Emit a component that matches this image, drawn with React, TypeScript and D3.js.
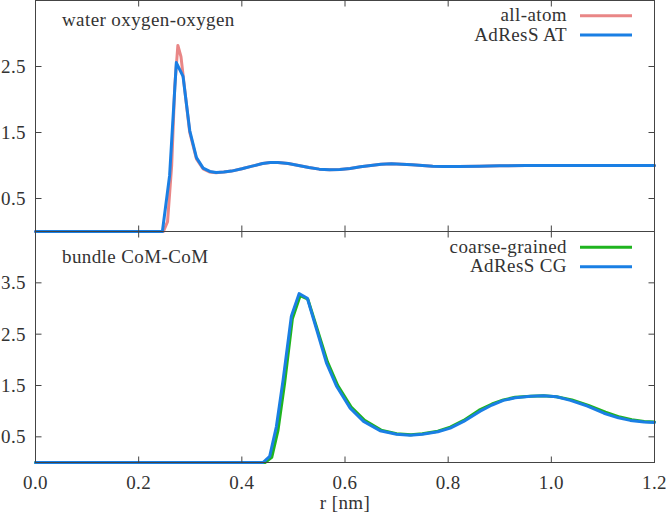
import React from "react";
import * as d3 from "d3";

// ---- data ----
const allAtomR = [0, 0.248, 0.256, 0.264, 0.27, 0.276, 0.282, 0.29, 0.299, 0.312, 0.325, 0.338, 0.35, 0.365, 0.38, 0.4, 0.42, 0.44, 0.455, 0.47, 0.49, 0.51, 0.53, 0.55, 0.57, 0.59, 0.61, 0.63, 0.65, 0.67, 0.69, 0.71, 0.73, 0.75, 0.77, 0.79, 0.82, 0.86, 0.9, 0.95, 1.0, 1.1, 1.2];
const allAtomG = [0, 0, 0.15, 1.0, 2.2, 2.82, 2.65, 2.1, 1.5, 1.1, 0.95, 0.9, 0.89, 0.9, 0.915, 0.95, 0.99, 1.03, 1.045, 1.045, 1.03, 1.0, 0.97, 0.945, 0.935, 0.94, 0.955, 0.98, 1.0, 1.02, 1.025, 1.02, 1.01, 1.0, 0.99, 0.985, 0.985, 0.99, 0.995, 1.0, 1.0, 1.0, 1.0];

const adressATR = [0, 0.246, 0.26, 0.273, 0.286, 0.299, 0.312, 0.325, 0.338, 0.35, 0.365, 0.38, 0.4, 0.42, 0.44, 0.455, 0.47, 0.49, 0.51, 0.53, 0.55, 0.57, 0.59, 0.61, 0.63, 0.65, 0.67, 0.69, 0.71, 0.73, 0.75, 0.77, 0.79, 0.82, 0.86, 0.9, 0.95, 1.0, 1.1, 1.2];
const adressATG = [0, 0, 0.85, 2.56, 2.35, 1.53, 1.12, 0.96, 0.91, 0.895, 0.9, 0.915, 0.95, 0.99, 1.03, 1.045, 1.045, 1.03, 1.0, 0.97, 0.945, 0.935, 0.94, 0.955, 0.98, 1.0, 1.02, 1.025, 1.02, 1.01, 1.0, 0.99, 0.985, 0.985, 0.99, 0.995, 1.0, 1.0, 1.0, 1.0];

const coarseR = [0, 0.445, 0.458, 0.47, 0.483, 0.498, 0.513, 0.528, 0.546, 0.566, 0.586, 0.612, 0.638, 0.67, 0.7, 0.728, 0.75, 0.78, 0.804, 0.83, 0.86, 0.885, 0.907, 0.93, 0.96, 0.985, 1.01, 1.04, 1.072, 1.105, 1.133, 1.156, 1.18, 1.2];
const coarseG = [0, 0, 0.1, 0.62, 1.55, 2.8, 3.25, 3.18, 2.6, 1.96, 1.5, 1.08, 0.82, 0.63, 0.56, 0.54, 0.56, 0.61, 0.69, 0.82, 1.02, 1.14, 1.22, 1.27, 1.29, 1.3, 1.28, 1.22, 1.11, 0.98, 0.885, 0.835, 0.8, 0.79];

const adressCGR = [0, 0.441, 0.454, 0.467, 0.48, 0.496, 0.511, 0.527, 0.545, 0.564, 0.584, 0.61, 0.636, 0.668, 0.7, 0.726, 0.75, 0.78, 0.804, 0.83, 0.862, 0.885, 0.907, 0.93, 0.96, 0.985, 1.01, 1.037, 1.07, 1.102, 1.13, 1.153, 1.18, 1.2];
const adressCGG = [0, 0, 0.12, 0.7, 1.61, 2.85, 3.29, 3.2, 2.59, 1.94, 1.48, 1.06, 0.8, 0.62, 0.55, 0.53, 0.55, 0.6, 0.67, 0.8, 1.0, 1.12, 1.21, 1.26, 1.29, 1.3, 1.28, 1.21, 1.1, 0.96, 0.87, 0.82, 0.79, 0.78];

const xTicks = [0, 0.2, 0.4, 0.6, 0.8, 1.0, 1.2];
const topYTicks = [0.5, 1.5, 2.5];
const bottomYTicks = [0.5, 1.5, 2.5, 3.5];

const FONT = "'Liberation Serif', 'DejaVu Serif', serif";
const FS = 19;
const TXT = "#333";
const AX = "#444";
const RED = "#e98686";
const BLUE = "#1a7fe4";
const GREEN = "#1fb41f";

export default function App() {
  const left = 35.5, right = 654.5, top = 0.5, mid = 231.5, bottom = 462.5;
  const x = d3.scaleLinear().domain([0, 1.2]).range([left, right]);
  const yTop = d3.scaleLinear().domain([0, 3.5]).range([mid, top]);
  const yBot = d3.scaleLinear().domain([0, 4.5]).range([bottom, mid]);
  const tl = 6;

  const mk = (rs: number[], gs: number[], y: d3.ScaleLinear<number, number>) =>
    d3.line<number>().x((_, i) => x(rs[i])).y((g) => y(g)).curve(d3.curveLinear)(gs) || "";

  const lineStyle = { fill: "none", strokeWidth: 3, strokeLinejoin: "round" as const, strokeLinecap: "round" as const };
  const ts = { fontFamily: FONT, fontSize: FS, fill: TXT, letterSpacing: "0.4px" };

  return (
    <svg width={666} height={524} style={{ position: "absolute", left: 0, top: 0, background: "#fff" }}>
      <rect width={666} height={524} fill="#fff" />
      {/* curves */}
      <path d={mk(allAtomR, allAtomG, yTop)} stroke={RED} {...lineStyle} />
      <path d={mk(adressATR, adressATG, yTop)} stroke={BLUE} {...lineStyle} />
      <path d={mk(coarseR, coarseG, yBot)} stroke={GREEN} {...lineStyle} />
      <path d={mk(adressCGR, adressCGG, yBot)} stroke={BLUE} {...lineStyle} />

      {/* frame */}
      <rect x={left} y={top} width={right - left} height={bottom - top} fill="none" stroke={AX} strokeWidth={1} />
      <line x1={left} x2={right} y1={mid} y2={mid} stroke={AX} strokeWidth={1} />

      {/* x ticks */}
      {xTicks.map((t) => (
        <g key={"xt" + t}>
          <line x1={x(t)} x2={x(t)} y1={bottom} y2={bottom - tl} stroke={AX} />
          <line x1={x(t)} x2={x(t)} y1={mid - tl} y2={mid + tl} stroke={AX} />
          <line x1={x(t)} x2={x(t)} y1={top} y2={top + tl} stroke={AX} />
          <text x={x(t)} y={488.5} textAnchor="middle" style={ts}>{t.toFixed(1)}</text>
        </g>
      ))}

      {/* y ticks */}
      {topYTicks.map((t) => (
        <g key={"yt" + t}>
          <line x1={left} x2={left + tl} y1={yTop(t)} y2={yTop(t)} stroke={AX} />
          <line x1={right} x2={right - tl} y1={yTop(t)} y2={yTop(t)} stroke={AX} />
          <text x={26} y={yTop(t)} dy="0.34em" textAnchor="end" style={ts}>{t.toFixed(1)}</text>
        </g>
      ))}
      {bottomYTicks.map((t) => (
        <g key={"yb" + t}>
          <line x1={left} x2={left + tl} y1={yBot(t)} y2={yBot(t)} stroke={AX} />
          <line x1={right} x2={right - tl} y1={yBot(t)} y2={yBot(t)} stroke={AX} />
          <text x={26} y={yBot(t)} dy="0.34em" textAnchor="end" style={ts}>{t.toFixed(1)}</text>
        </g>
      ))}

      {/* panel labels */}
      <text x={62} y={25.5} style={ts}>water oxygen-oxygen</text>
      <text x={62} y={263} style={ts}>bundle CoM-CoM</text>

      {/* legends */}
      <text x={567} y={21} textAnchor="end" style={ts}>all-atom</text>
      <line x1={580} x2={632} y1={15.7} y2={15.7} stroke={RED} strokeWidth={3} />
      <text x={567} y={40.5} textAnchor="end" style={ts}>AdResS AT</text>
      <line x1={580} x2={632} y1={35} y2={35} stroke={BLUE} strokeWidth={3} />

      <text x={567} y={253} textAnchor="end" style={ts}>coarse-grained</text>
      <line x1={580} x2={632} y1={247.3} y2={247.3} stroke={GREEN} strokeWidth={3} />
      <text x={567} y={272.3} textAnchor="end" style={ts}>AdResS CG</text>
      <line x1={580} x2={632} y1={266.7} y2={266.7} stroke={BLUE} strokeWidth={3} />

      {/* axis label */}
      <text x={345} y={509} textAnchor="middle" style={ts}>r [nm]</text>
    </svg>
  );
}
